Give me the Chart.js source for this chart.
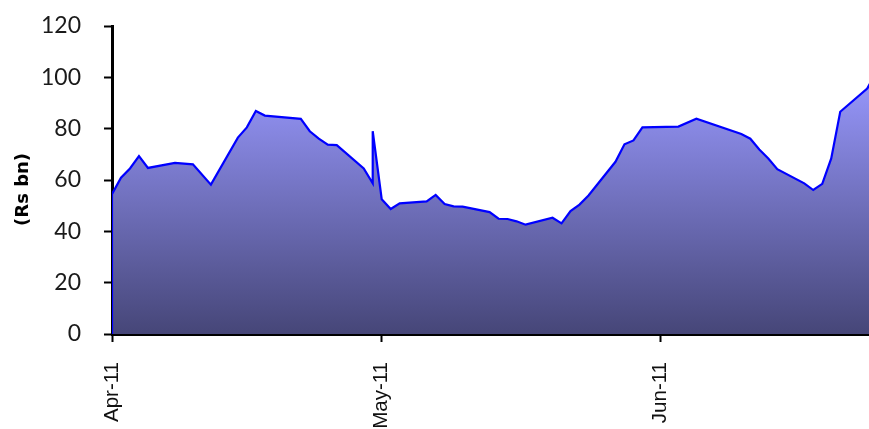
<!DOCTYPE html>
<html>
<head>
<meta charset="utf-8">
<script src="https://cdn.jsdelivr.net/npm/chart.js@4"></script>
<style>
  html, body { margin: 0; padding: 0; background: #fff; }
  #wrap { width: 869px; height: 429px; }
</style>
</head>
<body>
<div id="wrap"><canvas id="liquidityChart" width="869" height="429"></canvas></div>
<script>
// days counted from 1 Apr 2011, values in Rs bn
const days = [0, 0, 1, 2, 3, 4, 7, 9, 11, 14, 15, 16, 17, 21, 22, 23, 24, 25, 28, 29, 29,
              30, 31, 32, 35, 36, 37, 38, 39, 42, 43, 44, 45, 46, 49, 50, 51, 52, 53, 56,
              57, 58, 59, 63, 65, 70, 71, 72, 73, 74, 77, 78, 79, 80, 81, 84, 85];
const values = [0, 54.5, 60.9, 64.5, 69.3, 64.7, 66.7, 66.1, 58.2, 76.5, 80.5, 86.9, 85.1, 83.8, 79.0, 76.1, 73.8, 73.6, 64.5, 58.7, 79.0,
                52.5, 48.7, 50.9, 51.7, 54.2, 50.6, 49.7, 49.6, 47.5, 44.9, 44.8, 43.9, 42.6, 45.3, 43.1, 47.9, 50.4, 54.0, 67.1,
                73.9, 75.4, 80.5, 80.8, 83.9, 77.9, 76.1, 71.9, 68.4, 64.2, 58.7, 56.1, 58.5, 68.4, 86.6, 95.6, 102];
const tickDays = [0, 30, 61];
const tickLabels = ['Apr-11', 'May-11', 'Jun-11'];
const yMin = 0, yMax = 120, yStep = 20;

const points = days.map((d, i) => ({ x: d, y: values[i] }));

const data = {
    datasets: [{
        label: 'Rs bn',
        data: points,
        borderColor: '#0000FF',
        borderWidth: 2.2,
        pointRadius: 0,
        tension: 0,
        fill: 'origin',
        backgroundColor: (context) => {
            const chart = context.chart;
            const area = chart.chartArea;
            if (!area) return '#9999FF';
            const top = chart.scales.y.getPixelForValue(Math.max(...values));
            const g = chart.ctx.createLinearGradient(0, top, 0, area.bottom);
            g.addColorStop(0, '#9999FF');
            g.addColorStop(1, '#464678');
            return g;
        }
    }]
};

const config = {
    type: 'line',
    data: data,
    options: {
        responsive: false,
        animation: false,
        layout: { padding: { top: 26, right: 0, bottom: 0, left: 0 } },
        plugins: {
            legend: { display: false },
            tooltip: { enabled: false }
        },
        scales: {
            x: {
                type: 'linear',
                min: 0,
                max: 84.2,
                afterBuildTicks: (scale) => {
                    scale.ticks = tickDays.map(v => ({ value: v }));
                },
                afterFit: (scale) => { scale.height = 95; },
                ticks: {
                    autoSkip: false,
                    minRotation: 90,
                    maxRotation: 90,
                    padding: 20,
                    color: '#111',
                    font: { family: "'Liberation Sans', Arial, sans-serif", size: 20.5 },
                    callback: (value, index) => tickLabels[index]
                },
                grid: { drawOnChartArea: false, tickLength: 8, color: '#000', tickWidth: 2 },
                border: { color: '#000', width: 3 }
            },
            y: {
                min: yMin,
                max: yMax,
                afterFit: (scale) => {
                    scale.width = 112;
                    scale.paddingTop = 0;
                    scale.paddingBottom = 0;
                },
                ticks: {
                    stepSize: yStep,
                    padding: 23,
                    color: '#1a1a1a',
                    font: { family: "Lato, sans-serif", size: 23 }
                },
                title: {
                    display: true,
                    text: '(Rs bn)   ',
                    color: '#000',
                    padding: { top: 13, bottom: 0 },
                    font: { family: "'DejaVu Sans', sans-serif", size: 18, weight: 'bold' }
                },
                grid: { drawOnChartArea: false, tickLength: 8, color: '#000', tickWidth: 2 },
                border: { color: '#000', width: 3 }
            }
        }
    }
};

const ctx = document.getElementById('liquidityChart').getContext('2d');
const liquidityChart = new Chart(ctx, config);
</script>
</body>
</html>
